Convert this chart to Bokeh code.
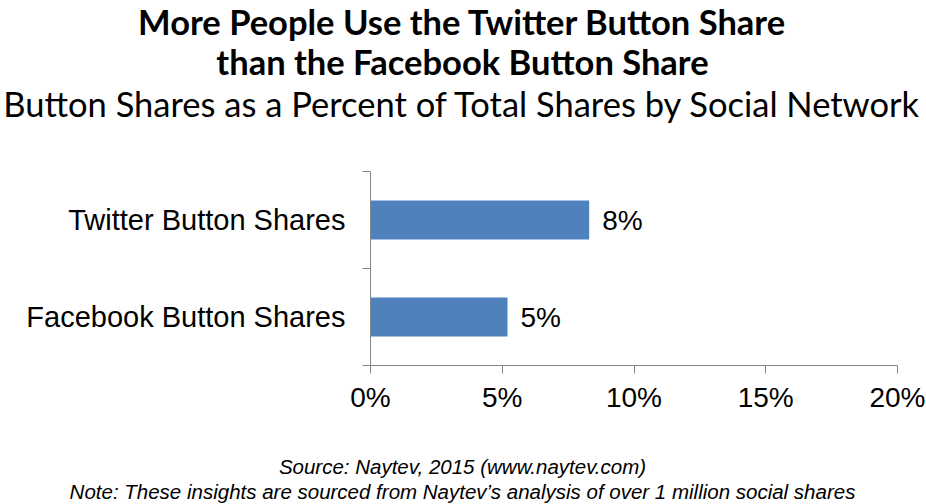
from bokeh.plotting import figure
from bokeh.models import FixedTicker, PrintfTickFormatter, ColumnDataSource, Range1d
from bokeh.layouts import column, row
from bokeh.core.properties import value
from bokeh.embed import file_html
from bokeh.resources import INLINE

categories = ["Facebook Button Shares", "Twitter Button Shares"]
positions = [0.5, 1.5]
values = [5.2, 8.3]
value_labels = ["5%", "8%"]
x_ticks = [0, 5, 10, 15, 20]

title_lines = ["More People Use the Twitter Button Share", "than the Facebook Button Share"]
subtitle = "Button Shares as a Percent of Total Shares by Social Network"
footnotes = ["Source: Naytev, 2015 (www.naytev.com)",
             "Note: These insights are sourced from Naytev\u2019s analysis of over 1 million social shares"]

W = 926
HEAD_H, MAIN_H, FOOT_H = 138, 307, 59


def blank(h):
    f = figure(width=W, height=h, output_backend="svg", toolbar_location=None,
               x_range=Range1d(0, W), y_range=Range1d(h, 0),
               x_axis_location=None, y_axis_location=None,
               min_border=0)
    f.outline_line_color = None
    f.xgrid.visible = False
    f.ygrid.visible = False
    return f


head = blank(HEAD_H)
cx = 462
head.text(x=[cx, cx], y=[21, 61], text=title_lines, text_align="center", text_baseline="middle",
          text_font=value("Lato"), text_font_style="bold", text_font_size="34.5px", text_color="black")
head.text(x=[cx], y=[103], text=[subtitle], text_align="center", text_baseline="middle",
          text_font=value("Lato"), text_font_size="34.5px", text_color="black")

p = figure(width=W, height=MAIN_H, output_backend="svg", toolbar_location=None,
           x_range=Range1d(0, 20), y_range=Range1d(0, 2),
           min_border_left=370, min_border_right=29, min_border_top=33, min_border_bottom=80)
p.outline_line_color = None
p.xgrid.visible = False
p.ygrid.visible = False

src = ColumnDataSource(dict(y=positions, v=values, lab=value_labels))
p.hbar(y="y", right="v", left=0, height=0.4, source=src, fill_color="#4F81BD", line_color=None)
p.text(x="v", y="y", text="lab", source=src, x_offset=13, text_baseline="middle", text_align="left",
       text_font=value("Liberation Sans"), text_font_size="28px", text_color="black")

axis_color = "#868686"
xa = p.xaxis[0]
xa.ticker = FixedTicker(ticks=x_ticks)
xa.formatter = PrintfTickFormatter(format="%d%%")
xa.axis_line_color = axis_color
xa.major_tick_line_color = axis_color
xa.major_tick_out = 8
xa.major_tick_in = 0
xa.minor_tick_line_color = None
xa.major_label_text_font = "Liberation Sans"
xa.major_label_text_font_size = "28px"
xa.major_label_text_color = "black"
xa.major_label_standoff = 8

ya = p.yaxis[0]
ya.ticker = FixedTicker(ticks=positions, minor_ticks=[0, 1, 2])
ya.major_label_overrides = {pos: cat for pos, cat in zip(positions, categories)}
ya.axis_line_color = axis_color
ya.major_tick_line_color = None
ya.major_tick_out = 0
ya.major_tick_in = 0
ya.minor_tick_line_color = axis_color
ya.minor_tick_out = 8
ya.minor_tick_in = 0
ya.major_label_text_font = "Liberation Sans"
ya.major_label_text_font_size = "29px"
ya.major_label_text_color = "black"
ya.major_label_standoff = 17

foot = blank(FOOT_H)
foot.text(x=[cx, cx], y=[21, 46], text=footnotes, text_align="center", text_baseline="middle",
          text_font=value("Liberation Sans"), text_font_style="italic", text_font_size="20.5px",
          text_color="black")

layout = column(row(head), row(p), row(foot), spacing=0)
open("out.html", "w").write(file_html(layout, INLINE))
